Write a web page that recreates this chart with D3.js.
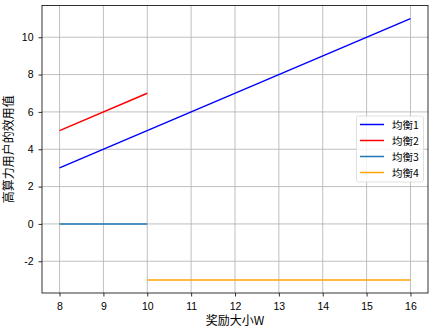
<!DOCTYPE html>
<html><head><meta charset="utf-8">
<script src="https://cdn.jsdelivr.net/npm/d3@7"></script>
<style>body{margin:0;background:#fff}svg{display:block}</style>
</head><body>
<svg id="c" width="432" height="328"></svg>
<script>
const seriesNames = ["均衡1","均衡2","均衡3","均衡4"];
const seriesColors = ["#0000ff","#ff0000","#1f77b4","#ffa500"];
const xs1 = [8,16], ys1 = [3,11];
const xs2 = [8,10], ys2 = [5,7];
const xs3 = [8,10], ys3 = [0,0];
const xs4 = [10,16], ys4 = [-3,-3];
const xTicks = [8,9,10,11,12,13,14,15,16];
const yTicks = [-2,0,2,4,6,8,10];
const xLabel = "奖励大小W", yLabel = "高算力用户的效用值";

const svg = d3.select("#c");
const L=42,R=428,T=5.5,B=293;
const x = d3.scaleLinear().domain([7.6,16.4]).range([L,R]);
const y = d3.scaleLinear().domain([-3.7,11.7]).range([B,T]);
const font = "'Liberation Sans', Arial, sans-serif";
const cjk = "'Noto Sans CJK SC', sans-serif";

const g = svg.append("g");
g.selectAll(".gx").data(xTicks).join("line")
 .attr("x1",d=>x(d)).attr("x2",d=>x(d)).attr("y1",T).attr("y2",B)
 .attr("stroke","#b0b0b0").attr("stroke-width",0.8);
g.selectAll(".gy").data(yTicks).join("line")
 .attr("y1",d=>y(d)).attr("y2",d=>y(d)).attr("x1",L).attr("x2",R)
 .attr("stroke","#b0b0b0").attr("stroke-width",0.8);

const xAxis = svg.append("g").attr("transform",`translate(0,${B})`)
 .call(d3.axisBottom(x).tickValues(xTicks).tickSize(3.5).tickPadding(6).tickFormat(d3.format("d")));
const yAxis = svg.append("g").attr("transform",`translate(${L},0)`)
 .call(d3.axisLeft(y).tickValues(yTicks).tickSize(3.5).tickPadding(5).tickFormat(d=>d<0?"-"+Math.abs(d):d));
[xAxis,yAxis].forEach(a=>{
 a.select(".domain").remove();
 a.selectAll("text").attr("font-family",font).attr("font-size",10.5).attr("fill","#000");
 a.selectAll("line").attr("stroke","#000").attr("stroke-width",0.8);
});

const series = [[xs1,ys1],[xs2,ys2],[xs3,ys3],[xs4,ys4]];
const line = d3.line().x(d=>x(d[0])).y(d=>y(d[1]));
series.forEach((s,i)=>{
 svg.append("path").datum(s[0].map((v,j)=>[v,s[1][j]]))
  .attr("d",line).attr("fill","none").attr("stroke",seriesColors[i]).attr("stroke-width",1.5);
});

svg.append("rect").attr("x",L).attr("y",T).attr("width",R-L).attr("height",B-T)
 .attr("fill","none").attr("stroke","#000").attr("stroke-width",0.8);

svg.append("text").attr("x",(L+R)/2).attr("y",325).attr("text-anchor","middle")
 .attr("font-family",cjk).attr("font-size",12).text(xLabel);
svg.append("text").attr("transform",`translate(13,${(T+B)/2}) rotate(-90)`).attr("text-anchor","middle")
 .attr("font-family",cjk).attr("font-size",12).text(yLabel);

const lg = svg.append("g");
lg.append("rect").attr("x",356.5).attr("y",116).attr("width",67).attr("height",66).attr("rx",2)
 .attr("fill","rgba(255,255,255,0.8)").attr("stroke","#d9d9d9").attr("stroke-width",0.8);
seriesNames.forEach((n,i)=>{
 const yy = 124.5 + i*16;
 lg.append("line").attr("x1",360).attr("x2",384).attr("y1",yy).attr("y2",yy)
  .attr("stroke",seriesColors[i]).attr("stroke-width",1.5);
 lg.append("text").attr("x",392).attr("y",yy+4).attr("font-family",cjk).attr("font-size",10.5).text(n);
});
</script>
</body></html>
